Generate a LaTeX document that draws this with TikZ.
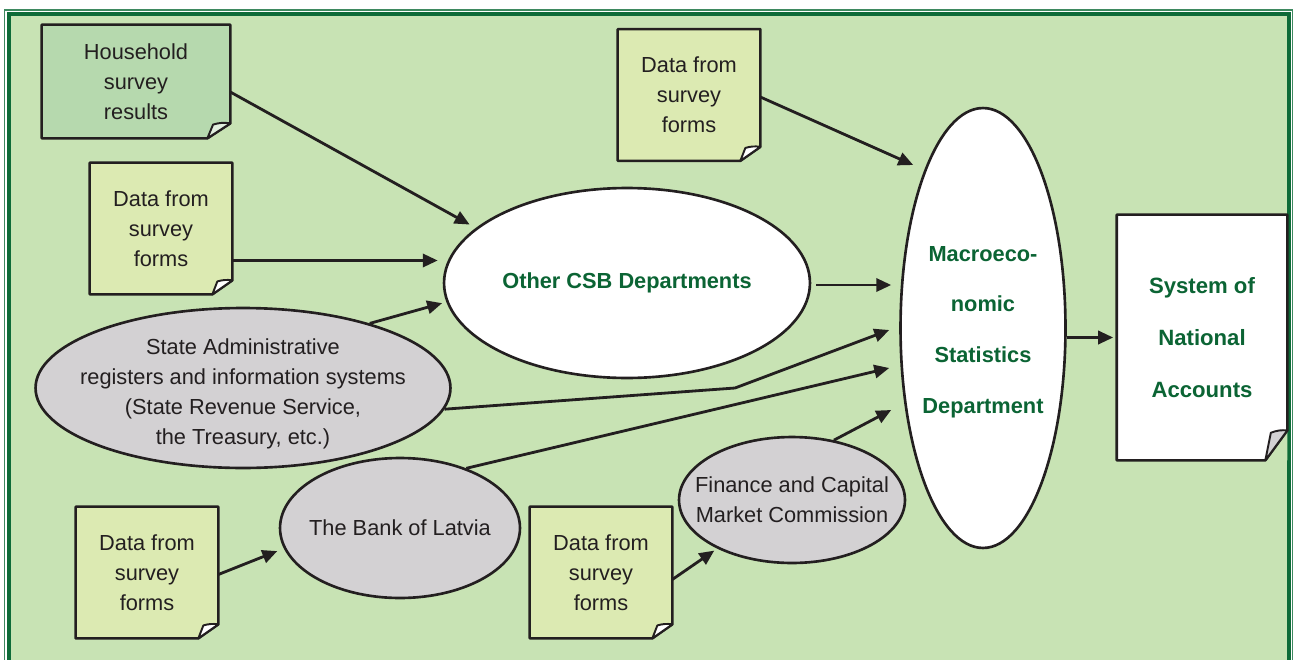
\documentclass[tikz,border=0pt]{standalone}
\usepackage{fontspec}
\setmainfont{Liberation Sans}
\usetikzlibrary{shapes.geometric,arrows.meta,positioning}

\definecolor{bggreen}{HTML}{C8E3B4}
\definecolor{framegreen}{HTML}{0E6B38}
\definecolor{hhgreen}{HTML}{B6D9AE}
\definecolor{formgreen}{HTML}{DCEAB2}
\definecolor{ovalgrey}{HTML}{D3D1D3}
\definecolor{textgreen}{HTML}{0B6434}
\definecolor{ink}{HTML}{231F20}

\tikzset{
  sheet/.style={fill=#1,inner sep=0pt,align=center,minimum width=2.84cm,minimum height=2.62cm},
  oval/.style={ellipse,draw=ink,line width=1.5pt,fill=#1,inner sep=0pt,align=center},
  inside/.style={label={[align=center,text=ink]center:#1}},
  flow/.style={-{Triangle[length=8.5pt,width=7.5pt]},line width=1.6pt,draw=ink,line join=round},
}

% outline of a sheet with a turned-up corner
\newcommand{\dogear}[4]{%
  \fill[bggreen] ([shift={(-#2,0)}]#1.south east) -- (#1.south east) -- ([shift={(0,-#3)}]#1.south east) -- cycle;
  \draw[ink,line width=1.5pt,line join=round] (#1.north west) -- (#1.north east) -- ([shift={(0,-#3)}]#1.south east)
      -- ([shift={(-#2,0)}]#1.south east) -- (#1.south west) -- cycle;
  \draw[ink,line width=1.1pt,line join=round,fill=#4] ([shift={(-#2,0)}]#1.south east)
      -- ([shift={(-0.75*#2,-0.92*#3)}]#1.south east) to[bend left=12] ([shift={(0,-#3)}]#1.south east) -- cycle;}

\begin{document}
\begin{tikzpicture}[x=0.02cm,y=-0.02cm,text=ink,font=\fontsize{12.4}{17}\selectfont]
\clip (0,0) rectangle (1294,659);
\fill[white] (0,0) rectangle (1294,659);
\fill[bggreen] (9,14) rectangle (1289,700);
\draw[framegreen!80,line width=0.8pt] (4.5,10) rectangle (1292.5,700);
\draw[framegreen,line width=2.2pt] (9,14) rectangle (1289,700);

% sources
\node[sheet=hhgreen,minimum width=3.76cm,minimum height=2.26cm] (HH) at (136,81.5) {Household\\survey\\results};
\foreach \n/\p in {1/{(689,95)},2/{(161,228.5)},3/{(147,572.5)},4/{(601,572.5)}}
  \node[sheet=formgreen] (D\n) at \p {Data from\\survey\\forms};
\node[sheet=white,minimum width=3.4cm,minimum height=4.9cm,font=\fontsize{12.6}{29.5}\selectfont\bfseries,text=textgreen]
  (SNA) at (1202,337.5) {System of\\National\\Accounts};

\dogear{HH}{23}{15}{hhgreen!40}
\foreach \b in {D1,D2,D3,D4} \dogear{\b}{20}{14}{white};
\dogear{SNA}{22}{30}{ovalgrey}

% departments and institutions
\node[oval=white,minimum width=7.32cm,minimum height=3.8cm,font=\fontsize{12.4}{17}\selectfont\bfseries,text=textgreen]
  (CSB) at (627,283) {Other CSB Departments};
\node[oval=white,minimum width=3.3cm,minimum height=8.8cm,
  label={[align=center,text=textgreen,yshift=-2.3pt,font=\fontsize{12.4}{28.9}\selectfont\bfseries]center:Macroeco-\\nomic\\Statistics\\Department}]
  (MAC) at (983,328) {};
\node[oval=ovalgrey,minimum width=8.3cm,minimum height=3.2cm,
  label={[align=center,text=ink,yshift=-3.5pt]center:State Administrative\\registers and information systems\\(State Revenue Service,\\the Treasury, etc.)}]
  (SA) at (243,388) {};
\node[oval=ovalgrey,minimum width=4.8cm,minimum height=2.8cm,inside={The Bank of Latvia}] (BL) at (400,528) {};
\node[oval=ovalgrey,minimum width=4.52cm,minimum height=2.52cm,inside={Finance and Capital\\Market Commission}]
  (FC) at (792,500) {};

\coordinate (K) at (735,388);

\draw[flow,shorten >=4pt] ([shift={(0,10.5)}]HH.east) -- (CSB.160);
\draw[flow] ([shift={(0,32)}]D2.east) -- ([shift={(-5,32)}]D2.east -| CSB.west);
\draw[flow,shorten >=2.5pt] (SA.27) -- (CSB.186);
\draw[flow] (SA.-6) -- (K) -- ([shift={(-10,2)}]MAC.west);
\draw[flow] (BL.42) -- ([shift={(-10,40)}]MAC.west);
\draw[flow] (FC.55) -- ([shift={(-8,82)}]MAC.west);
\draw[flow] ([shift={(0,2)}]D1.east) -- ([shift={(14,-163)}]MAC.west);
\draw[flow] ([shift={(5,2)}]CSB.east) -- ([shift={(-8,-43)}]MAC.west);
\draw[flow,shorten >=2pt] (MAC.east |- SNA.west) -- (SNA.west);
\draw[flow,shorten >=4pt] ([shift={(0,2)}]D3.east) -- (BL.190);
\draw[flow,shorten >=2pt] ([shift={(0,7)}]D4.east) -- (FC.213);
\end{tikzpicture}
\end{document}
